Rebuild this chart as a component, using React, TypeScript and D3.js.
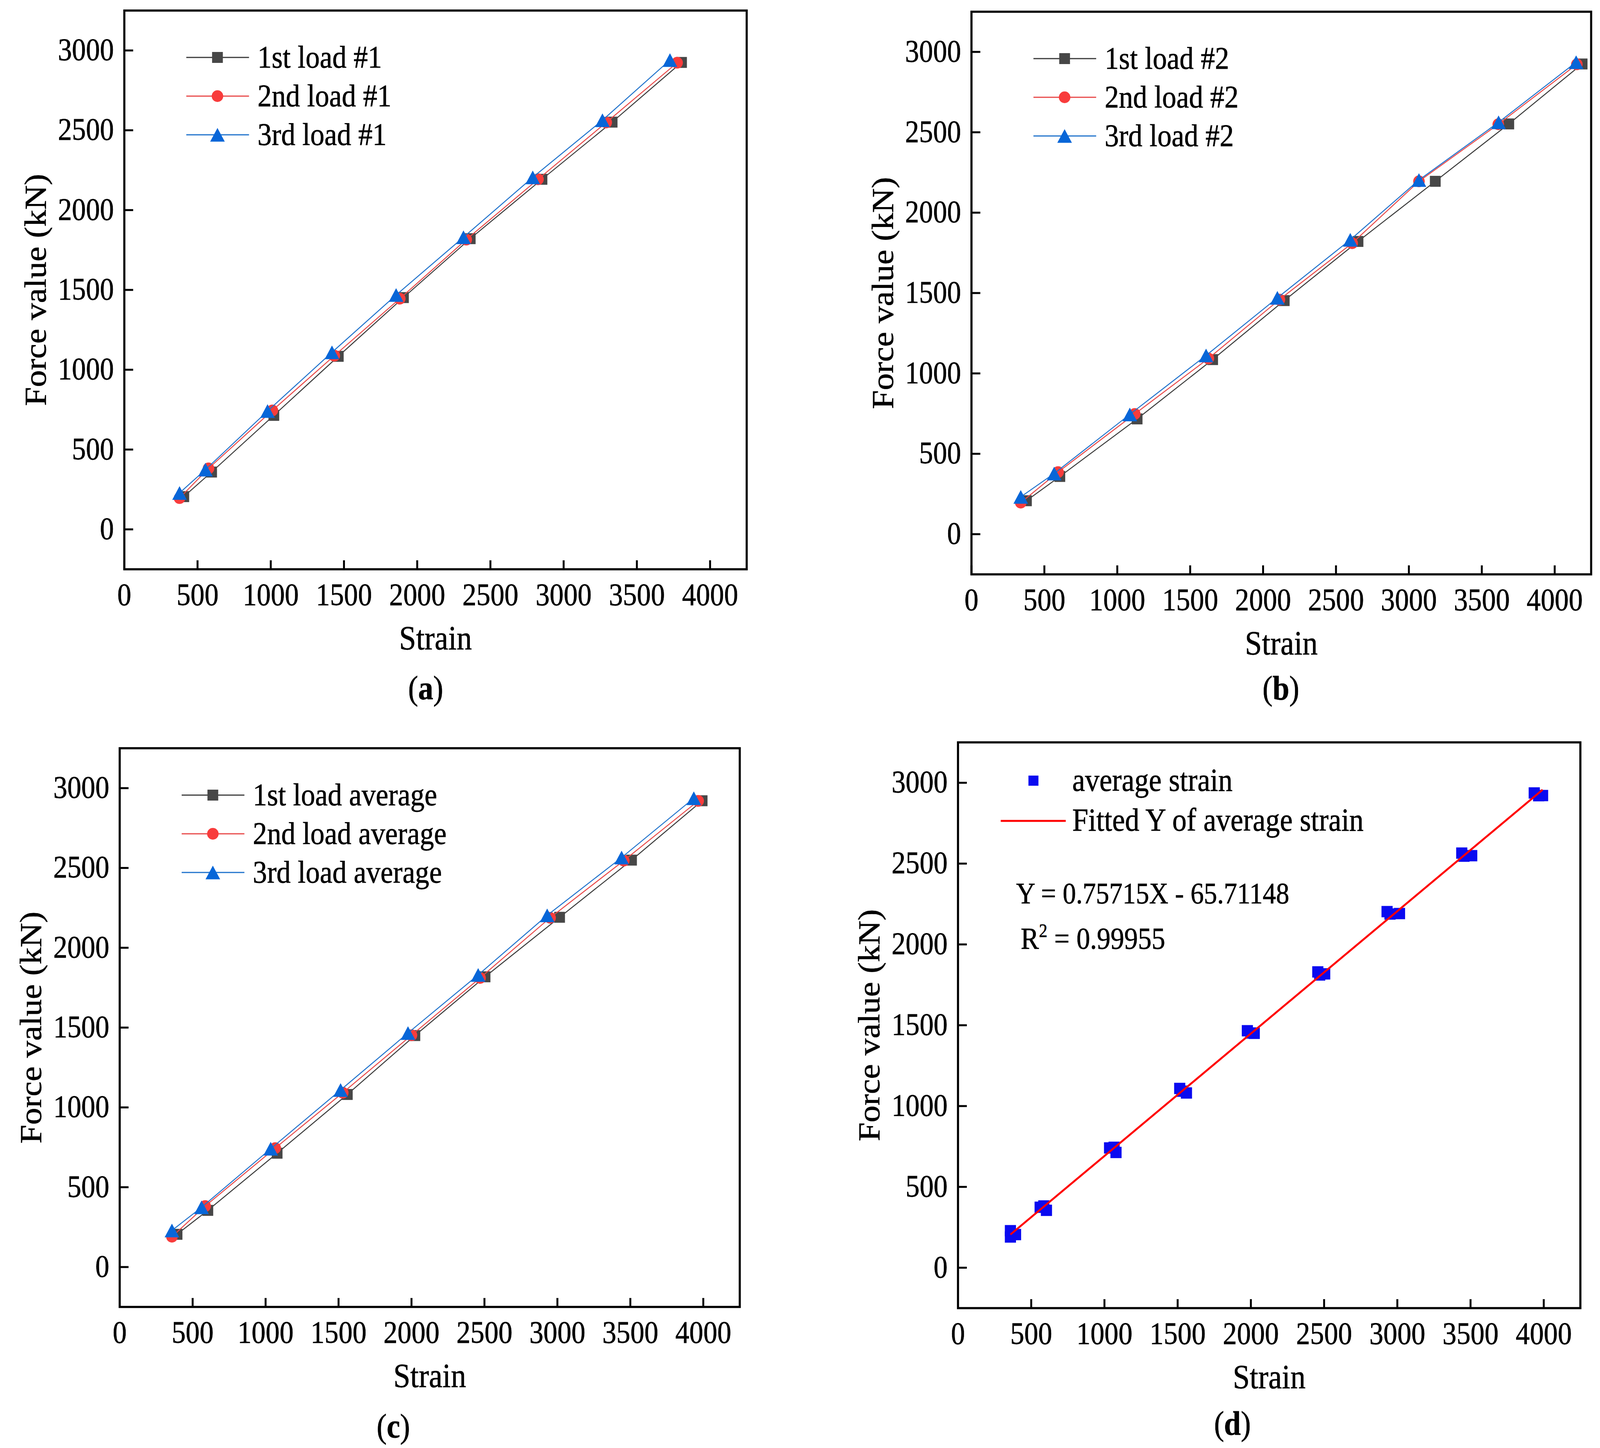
import React from 'react'
import * as d3 from 'd3'

// axis ticks shared by all four panels
const xTicks = [0, 500, 1000, 1500, 2000, 2500, 3000, 3500, 4000]
const yTicks = [0, 500, 1000, 1500, 2000, 2500, 3000]

// panel (a) - gauge #1
const strainA1 = [406, 596, 1021, 1461, 1906, 2362, 2852, 3331, 3805]
const forceA1 = [205, 359, 714, 1084, 1452, 1821, 2193, 2551, 2925]
const strainA2 = [377, 575, 1011, 1434, 1881, 2335, 2825, 3291, 3775]
const forceA2 = [196, 382, 745, 1088, 1445, 1815, 2193, 2549, 2923]
const strainA3 = [377, 554, 978, 1418, 1856, 2316, 2789, 3265, 3726]
const forceA3 = [228, 374, 741, 1109, 1468, 1830, 2205, 2563, 2940]

// panel (b) - gauge #2
const strainB1 = [377, 606, 1136, 1654, 2145, 2651, 3181, 3685, 4188]
const forceB1 = [208, 359, 717, 1086, 1453, 1821, 2195, 2552, 2925]
const strainB2 = [338, 594, 1120, 1625, 2112, 2611, 3069, 3613, 4152]
const forceB2 = [196, 386, 748, 1093, 1459, 1810, 2195, 2550, 2923]
const strainB3 = [338, 567, 1086, 1609, 2098, 2598, 3069, 3615, 4147]
const forceB3 = [232, 377, 745, 1112, 1470, 1831, 2203, 2562, 2936]

// panel (c) - average of both gauges
const strainC1 = [393, 604, 1079, 1560, 2023, 2504, 3015, 3508, 3992]
const forceC1 = [205, 355, 713, 1081, 1450, 1818, 2191, 2549, 2921]
const strainC2 = [358, 586, 1066, 1529, 2000, 2470, 2950, 3455, 3965]
const forceC2 = [190, 382, 745, 1092, 1452, 1811, 2188, 2546, 2920]
const strainC3 = [358, 561, 1035, 1514, 1976, 2457, 2930, 3440, 3935]
const forceC3 = [229, 374, 741, 1109, 1466, 1830, 2203, 2565, 2937]

// panel (d) - linear fit of the average strain
const fitSlope = 0.75715
const fitIntercept = -65.71148
const fitEquation = 'Y = 0.75715X - 65.71148'
const fitR2 = '0.99955'

const FONT = '"Liberation Serif", "Times New Roman", serif'
const SQUASH = 0.91 // source glyphs are a bit narrower than Times

type Pt = [number, number]
const zip = (xs: number[], ys: number[]): Pt[] => xs.map((x, i) => [x, ys[i]])

type Shape = 'square' | 'circle' | 'triangle'

interface Series {
  label: string
  points: Pt[]
  shape: Shape
  fill: string
  stroke: string
}

const Label = ({ x, y, size, anchor = 'start', weight, vertical, children }: any) => (
  <text
    transform={`translate(${x},${y}) ${vertical ? `rotate(-90) scale(1,${SQUASH})` : `scale(${SQUASH},1)`}`}
    fontSize={size}
    textAnchor={anchor}
    fontFamily={FONT}
    fontWeight={weight}
    fill="#000"
    stroke="#000"
    strokeWidth={0.8}
  >
    {children}
  </text>
)

const Marker = ({ shape, x, y, fill, size = 28 }: { shape: Shape; x: number; y: number; fill: string; size?: number }) => {
  if (shape === 'square') return <rect x={x - size / 2} y={y - size / 2} width={size} height={size} fill={fill} />
  if (shape === 'circle') return <circle cx={x} cy={y} r={15} fill={fill} />
  const w = 38
  const h = 35
  return <path d={`M${x},${y - h / 2}L${x + w / 2},${y + h / 2}L${x - w / 2},${y + h / 2}Z`} fill={fill} />
}

interface PanelProps {
  L: number
  T: number
  W: number
  H: number
  caption: string
  capX: number
  capY: number
  series?: Series[]
  fit?: boolean
}

const Panel = ({ L, T, W, H, caption, capX, capY, series = [], fit = false }: PanelProps) => {
  const x = d3.scaleLinear().domain([0, 4250]).range([L, L + W])
  const y = d3.scaleLinear().domain([-250, 3250]).range([T + H, T])
  const line = d3
    .line<Pt>()
    .x(d => x(d[0]))
    .y(d => y(d[1]))

  // all average points for the scatter panel
  const avgPoints: Pt[] = [
    ...zip(strainC1, forceC1),
    ...zip(strainC2, forceC2),
    ...zip(strainC3, forceC3),
  ]
  const [xMin, xMax] = d3.extent(avgPoints, d => d[0]) as [number, number]
  const fitLine: Pt[] = [
    [xMin, fitSlope * xMin + fitIntercept],
    [xMax, fitSlope * xMax + fitIntercept],
  ]

  return (
    <g>
      {/* data */}
      {series.map(s => (
        <g key={s.label}>
          <path d={line(s.points) || ''} fill="none" stroke={s.stroke} strokeWidth={2.5} />
          {s.points.map((p, i) => (
            <Marker key={i} shape={s.shape} x={x(p[0])} y={y(p[1])} fill={s.fill} />
          ))}
        </g>
      ))}

      {fit ? (
        <g>
          {avgPoints.map((p, i) => (
            <Marker key={i} shape="square" x={x(p[0])} y={y(p[1])} fill="#0a0af0" size={29} />
          ))}
          <path d={line(fitLine) || ''} fill="none" stroke="#ff0000" strokeWidth={5} />
        </g>
      ) : null}

      {/* frame and inward ticks */}
      <rect x={L} y={T} width={W} height={H} fill="none" stroke="#000" strokeWidth={5.5} />
      {xTicks.map(t => (
        <g key={`x${t}`}>
          <line x1={x(t)} x2={x(t)} y1={T + H} y2={T + H - 23} stroke="#000" strokeWidth={5} />
          <Label x={x(t)} y={T + H + 92} size={80} anchor="middle">
            {t}
          </Label>
        </g>
      ))}
      {yTicks.map(t => (
        <g key={`y${t}`}>
          <line x1={L} x2={L + 23} y1={y(t)} y2={y(t)} stroke="#000" strokeWidth={5} />
          <Label x={L - 27} y={y(t) + 25} size={80} anchor="end">
            {t}
          </Label>
        </g>
      ))}

      {/* axis titles */}
      <Label x={L + W / 2} y={T + H + 205} size={87} anchor="middle">
        Strain
      </Label>
      <Label x={L - 204} y={T + H / 2} size={87} anchor="middle" vertical>
        Force value (kN)
      </Label>

      {/* legend */}
      {series.map((s, i) => {
        const ly = T + 120 + i * 99
        return (
          <g key={`lg${i}`}>
            <line x1={L + 161} x2={L + 324} y1={ly} y2={ly} stroke={s.stroke} strokeWidth={3} />
            <Marker shape={s.shape} x={L + 242} y={ly} fill={s.fill} />
            <Label x={L + 346} y={ly + 26} size={81}>
              {s.label}
            </Label>
          </g>
        )
      })}
      {fit ? (
        <g>
          <Marker shape="square" x={L + 196} y={T + 98} fill="#0a0af0" size={26} />
          <Label x={L + 297} y={T + 124} size={82}>
            average strain
          </Label>
          <line x1={L + 111} x2={L + 280} y1={T + 201} y2={T + 201} stroke="#ff0000" strokeWidth={5} />
          <Label x={L + 297} y={T + 226} size={82}>
            Fitted Y of average strain
          </Label>
          <Label x={L + 151} y={T + 412} size={76}>
            {fitEquation}
          </Label>
          <Label x={L + 163} y={T + 528} size={78}>
            <tspan>R</tspan>
            <tspan dy={-30} fontSize={48}>
              2
            </tspan>
            <tspan dy={30}>{` = ${fitR2}`}</tspan>
          </Label>
        </g>
      ) : null}

      {/* sub-figure caption */}
      <Label x={capX} y={capY} size={86} anchor="middle">
        <tspan>(</tspan>
        <tspan fontWeight="bold">{caption}</tspan>
        <tspan>)</tspan>
      </Label>
    </g>
  )
}

const makeSeries = (labels: string[], data: [number[], number[]][]): Series[] => {
  const shapes: Shape[] = ['square', 'circle', 'triangle']
  const fills = ['#474747', '#f83c3c', '#0766d8']
  const strokes = ['#3a3a3a', '#e84848', '#1f72cc']
  return data.map((d, i) => ({
    label: labels[i],
    points: zip(d[0], d[1]),
    shape: shapes[i],
    fill: fills[i],
    stroke: strokes[i],
  }))
}

const seriesA = makeSeries(
  ['1st load #1', '2nd load #1', '3rd load #1'],
  [
    [strainA1, forceA1],
    [strainA2, forceA2],
    [strainA3, forceA3],
  ],
)
const seriesB = makeSeries(
  ['1st load #2', '2nd load #2', '3rd load #2'],
  [
    [strainB1, forceB1],
    [strainB2, forceB2],
    [strainB3, forceB3],
  ],
)
const seriesC = makeSeries(
  ['1st load average', '2nd load average', '3rd load average'],
  [
    [strainC1, forceC1],
    [strainC2, forceC2],
    [strainC3, forceC3],
  ],
)

// the photographed area is narrower than the figure, so squeeze it to fit
const VIEW_W = 4157
const VIEW_H = 3706
const OUT_W = 4096

export default function App() {
  return (
    <svg
      width={OUT_W}
      height={VIEW_H}
      viewBox={`0 0 ${VIEW_W} ${VIEW_H}`}
      preserveAspectRatio="none"
      style={{ position: 'absolute', left: 0, top: 0, background: '#fff' }}
    >
      <rect width={VIEW_W} height={VIEW_H} fill="#fff" />
      <Panel L={323} T={27} W={1617} H={1430} caption="a" capX={1106} capY={1790} series={seriesA} />
      <Panel L={2524} T={30} W={1610} H={1440} caption="b" capX={3328} capY={1790} series={seriesB} />
      <Panel L={311} T={1915} W={1611} H={1430} caption="c" capX={1022} capY={3679} series={seriesC} />
      <Panel L={2489} T={1900} W={1617} H={1448} caption="d" capX={3202} capY={3672} fit />
    </svg>
  )
}
